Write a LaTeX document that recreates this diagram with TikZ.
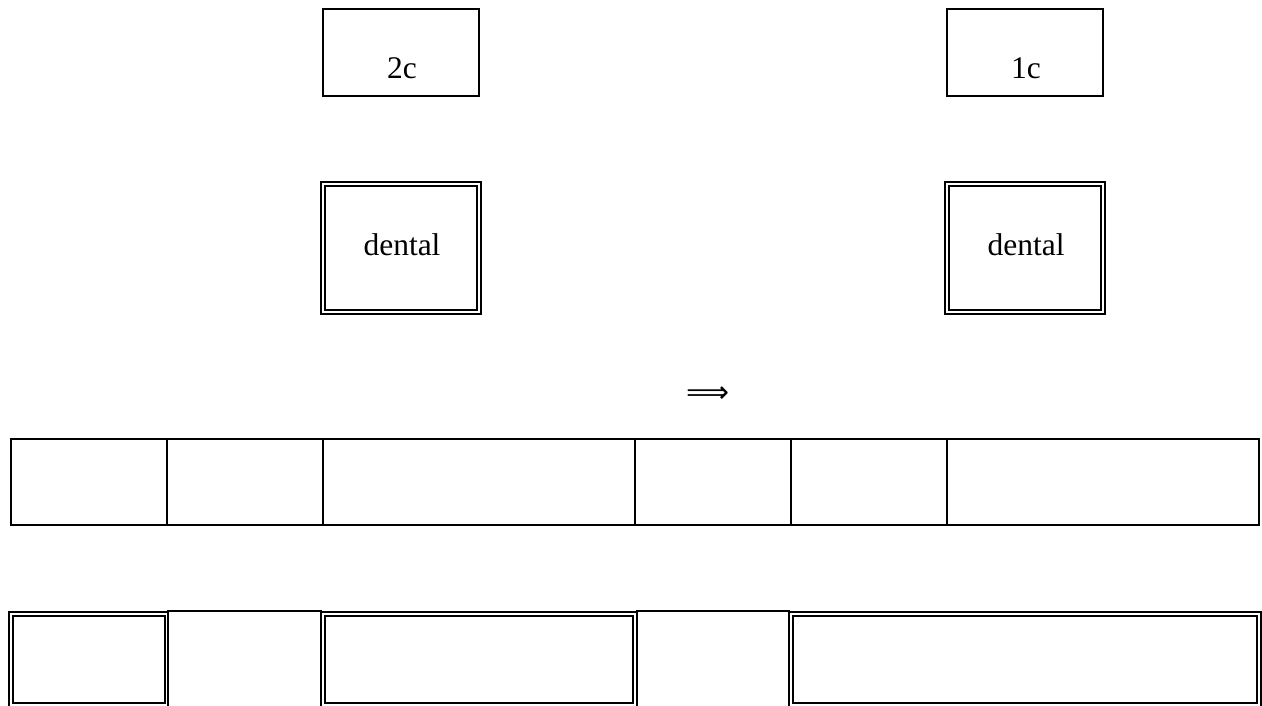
\documentclass[tikz,border=0pt]{standalone}
\usepackage{fontspec}
\setmainfont{Liberation Serif}
\newfontfamily\arrowfont{DejaVu Sans}
\begin{document}
\begin{tikzpicture}[x=1pt,y=-1pt,
  lbl/.style={inner sep=0pt,font=\fontsize{31.5}{36}\selectfont},
  sbox/.style={draw,line width=2pt,inner sep=0pt},
  dbox/.style={draw,line width=1.9pt,double=white,double distance=1.7pt,inner sep=0pt},
  cell/.style={draw,line width=2.2pt,inner sep=0pt,minimum height=86pt}]
\useasboundingbox (0,0) rectangle (1262,706);
% top single boxes
\node[sbox,minimum width=156pt,minimum height=87pt] (b2) at (401,52.7) {};
\node[lbl] (t2) at (402,68) {2c};
\node[sbox,minimum width=156pt,minimum height=87pt] (b1) at (1025,52.7) {};
\node[lbl] (t1) at (1026,68) {1c};
% dental double boxes
\node[dbox,minimum width=156pt,minimum height=128pt] (d2) at (401,248) {};
\node[lbl] (td2) at (402,244.5) {dental};
\node[dbox,minimum width=156pt,minimum height=128pt] (d1) at (1025,248) {};
\node[lbl] (td1) at (1026,244.5) {dental};
% arrow
\node[inner sep=0pt,font=\arrowfont\fontsize{30}{34}\selectfont] (arr) at (708,395) {⟹};
% middle row
\node[cell,minimum width=156pt] (m1) at (89,482) {};
\node[cell,minimum width=156pt] (m2) at (245,482) {};
\node[cell,minimum width=312pt] (m3) at (479,482) {};
\node[cell,minimum width=156pt] (m4) at (713,482) {};
\node[cell,minimum width=156pt] (m5) at (869,482) {};
\node[cell,minimum width=312pt] (m6) at (1103,482) {};
% bottom row
\node[dbox,minimum width=155.5pt,minimum height=91pt] (c1) at (88.75,659.5) {};
\node[dbox,minimum width=312pt,minimum height=91pt] (c3) at (479,659.5) {};
\node[dbox,minimum width=468pt,minimum height=91pt] (c5) at (1025,659.5) {};
\draw[line width=1.9pt] ([yshift=1.8pt]c1.north east) -- ([yshift=1.8pt]c3.north west);
\draw[line width=1.9pt] ([yshift=1.8pt]c3.north east) -- ([yshift=1.8pt]c5.north west);
\end{tikzpicture}
\end{document}
